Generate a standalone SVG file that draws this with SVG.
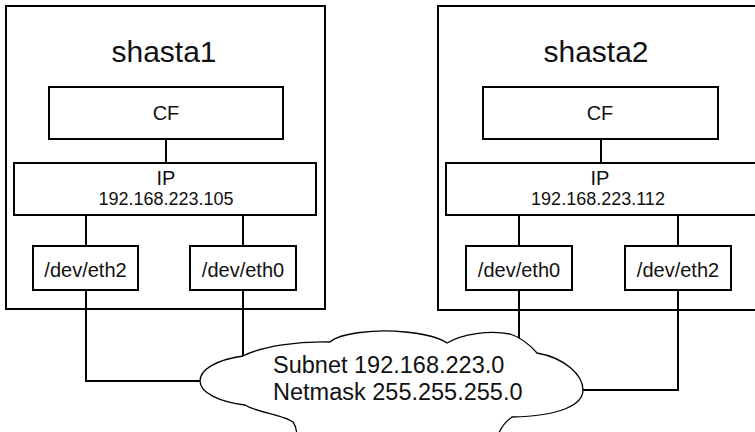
<svg xmlns="http://www.w3.org/2000/svg" width="755" height="432" viewBox="0 0 755 432">
<style>
  .box { fill: #ffffff; stroke: #000000; stroke-width: 2; }
  .wire { fill: none; stroke: #000000; stroke-width: 2; }
  .cloud { fill: #ffffff; stroke: #000000; stroke-width: 1.3; }
  text { font-family: "Liberation Sans", Arial, sans-serif; fill: #111111; }
  .title { font-size: 30px; text-anchor: middle; }
  .lbl { font-size: 20px; text-anchor: middle; }
  .ip { font-size: 18px; text-anchor: middle; }
  .net { font-size: 23.5px; }
</style>
<rect width="755" height="432" fill="#ffffff"/>

<g id="shasta1">
  <rect class="box" x="6" y="6" width="319" height="303"/>
  <text class="title" x="164" y="62">shasta1</text>
</g>
<g id="shasta2">
  <rect class="box" x="438" y="6" width="330" height="304"/>
  <text class="title" x="596" y="62">shasta2</text>
</g>

<g id="connectors">
  <path class="wire" d="M166,139 V163"/>
  <path class="wire" d="M86,215 V246"/>
  <path class="wire" d="M243,213 V246"/>
  <path class="wire" d="M86,290 V381 H200"/>
  <path class="wire" d="M243,290 V356"/>
  <path class="wire" d="M601,139 V163"/>
  <path class="wire" d="M519,215 V246"/>
  <path class="wire" d="M678,215 V246"/>
  <path class="wire" d="M519,290 V338"/>
  <path class="wire" d="M678,290 V390 H583"/>
</g>

<g id="cf1">
  <rect class="box" x="49" y="87" width="234" height="52"/>
  <text class="lbl" x="166" y="120">CF</text>
</g>
<g id="ip1">
  <rect class="box" x="14" y="163" width="302" height="52"/>
  <text class="lbl" x="166" y="185">IP</text>
  <text class="ip" x="166" y="205">192.168.223.105</text>
</g>
<g id="eth2-1">
  <rect class="box" x="33" y="246" width="105" height="44"/>
  <text class="lbl" x="85.5" y="277">/dev/eth2</text>
</g>
<g id="eth0-1">
  <rect class="box" x="190" y="246" width="106" height="44"/>
  <text class="lbl" x="243" y="277">/dev/eth0</text>
</g>

<g id="cf2">
  <rect class="box" x="483" y="87" width="235" height="52"/>
  <text class="lbl" x="600" y="120">CF</text>
</g>
<g id="ip2">
  <rect class="box" x="446" y="163" width="320" height="52"/>
  <text class="lbl" x="600" y="185">IP</text>
  <text class="ip" x="598" y="205">192.168.223.112</text>
</g>
<g id="eth0-2">
  <rect class="box" x="466" y="246" width="106" height="44"/>
  <text class="lbl" x="519" y="277">/dev/eth0</text>
</g>
<g id="eth2-2">
  <rect class="box" x="625" y="246" width="106" height="44"/>
  <text class="lbl" x="678" y="277">/dev/eth2</text>
</g>

<g id="subnet">
  <path class="cloud" d="M243,356 C262,346 300,341 330,342 C340,333 375,329 405,332 C425,334 440,338 447,343 C462,334 490,330 510,334 C520,337 530,345 537,353 C565,358 583,375 583,390 C583,405 560,416 512,417 C505,422 500,428 497,438 L297,438 C297,430 296,426 293,422 C285,415 255,412 245,405 C220,402 200,393 200,381 C200,370 215,360 243,356 Z"/>
  <text class="net" x="273" y="373">Subnet 192.168.223.0</text>
  <text class="net" x="273" y="400">Netmask 255.255.255.0</text>
</g>
</svg>
